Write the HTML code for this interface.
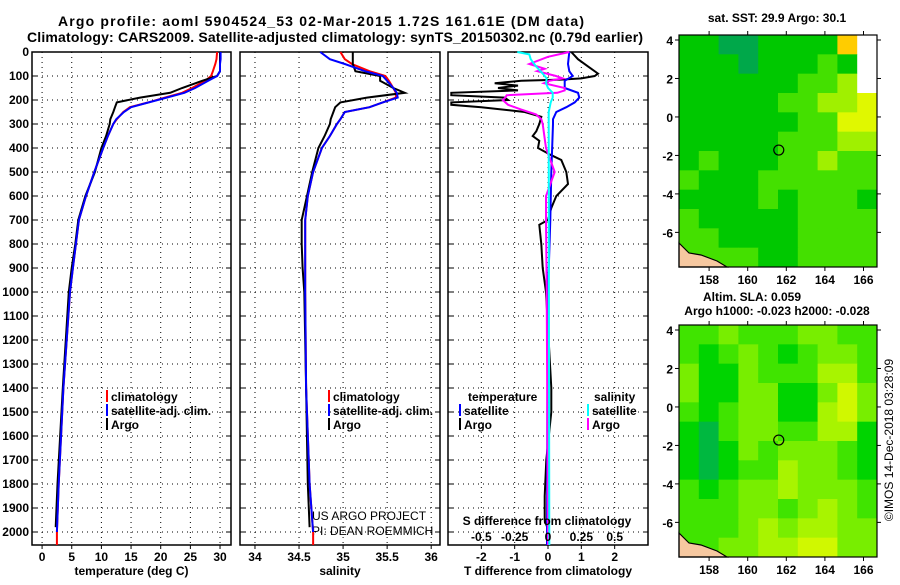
<!DOCTYPE html>
<html><head><meta charset="utf-8"><style>
body{margin:0;background:#fff}
svg text{font-family:"Liberation Sans",Arial,sans-serif;font-weight:bold;font-size:12px;fill:#000}
</style></head><body>
<svg id="c" width="900" height="580" viewBox="0 0 900 580" xmlns="http://www.w3.org/2000/svg">
<text x="58" y="26" style="font-size:14px" textLength="526">Argo profile: aoml 5904524_53 02-Mar-2015 1.72S 161.61E (DM data)</text>
<text x="27" y="42" style="font-size:14px" textLength="616">Climatology: CARS2009. Satellite-adjusted climatology: synTS_20150302.nc (0.79d earlier)</text>
<text x="777" y="22" text-anchor="middle">sat. SST: 29.9 Argo: 30.1</text>
<text x="752" y="301" text-anchor="middle">Altim. SLA: 0.059</text>
<text x="777" y="315" text-anchor="middle">Argo h1000: -0.023 h2000: -0.028</text>
<text transform="translate(893,440) rotate(-90)" text-anchor="middle" style="font-weight:normal;font-size:12px">©IMOS 14-Dec-2018 03:28:09</text>
<text x="312" y="520" style="font-weight:normal;font-size:12px">US ARGO PROJECT</text>
<text x="312" y="535" style="font-weight:normal;font-size:12px">PI: DEAN ROEMMICH</text>
</svg>
<script>
// ---- data ----
const depths=[0,30,50,80,100,120,150,170,190,210,230,250,280,300,350,400,500,600,700,800,900,1000,1400,1800,2000];
const tempArgo=[30.0,30.0,30.0,30.0,29.5,27.0,23.6,21.6,16.5,12.6,12.3,12.0,11.5,11.4,10.8,10.0,8.9,7.3,6.1,5.6,5.0,4.5,3.5,2.6,2.3];
const tempClim=[29.5,29.4,29.2,28.8,28.5,27.5,25.3,23.6,20.7,17.9,14.8,13.7,12.6,12.0,11.1,10.3,8.8,7.4,6.2,5.7,5.2,4.7,3.6,2.8,2.5];
const tempSat=[30.1,30.1,30.0,30.0,29.5,28.0,25.8,24.0,21.0,18.0,15.0,13.8,12.5,12.0,11.1,10.3,8.8,7.4,6.2,5.7,5.2,4.7,3.6,2.8,2.5];
const salArgo=[35.11,35.11,35.11,35.14,35.42,35.42,35.57,35.70,35.27,34.97,34.91,34.89,34.86,34.85,34.79,34.72,34.65,34.59,34.53,34.53,34.54,34.56,34.58,34.60,34.62];
const salClim=[34.97,35.02,35.10,35.30,35.48,35.52,35.57,35.60,35.60,35.45,35.30,35.02,34.97,34.93,34.85,34.76,34.66,34.60,34.57,34.57,34.57,34.57,34.58,34.62,34.66];
const salSat=[34.74,34.85,35.02,35.25,35.45,35.50,35.57,35.61,35.62,35.45,35.30,35.02,34.97,34.93,34.85,34.76,34.66,34.60,34.57,34.57,34.57,34.57,34.58,34.62,34.66];
const dDepths=[0,30,60,90,100,110,115,120,130,140,150,160,170,180,190,200,210,220,230,250,270,300,330,350,370,400,430,450,500,550,600,650,700,720,800,900,1000,1400,1500,1700,1850,1950,1990];
const dTArgo=[0.7,0.9,1.2,1.5,1.4,1.0,0.4,-0.8,-1.6,-0.9,-1.5,-0.9,-2.9,-2.9,-1.3,-1.2,-2.9,-2.9,-2.0,-0.7,-0.2,-0.26,-0.35,-0.46,-0.26,-0.3,0.1,0.4,0.55,0.6,0.25,0.1,0.0,-0.26,-0.2,-0.16,-0.06,0.1,0.1,-0.05,-0.1,-0.1,0.0];
const tdDepths=[0,50,80,100,120,150,170,190,210,230,250,280,300,500,700,1000,1500,2054];
const dTSat=[0.64,0.6,0.64,0.74,0.5,0.5,0.9,0.94,0.8,0.55,0.25,0.15,0.15,0.1,0.07,0.0,-0.02,-0.03];
const sdDepths=[0,20,50,70,80,100,110,120,130,150,160,170,180,190,200,220,240,260,280,300,400,500,600,700,1000,2054];
const dSArgo=[0.16,0.0,-0.14,-0.025,-0.08,0.06,0.11,0.01,-0.03,0.125,0.125,0.07,-0.31,-0.32,-0.34,-0.3,-0.2,-0.09,-0.05,-0.04,-0.015,0.05,-0.015,-0.015,-0.01,0.0];
const ssDepths=[0,10,30,60,90,110,130,150,170,190,210,250,300,2054];
const dSSat=[-0.23,-0.14,-0.13,-0.09,-0.04,-0.01,-0.015,0.0,0.035,0.035,0.02,0.005,0.005,0.01];
const depthTicks=[0,100,200,300,400,500,600,700,800,900,1000,1100,1200,1300,1400,1500,1600,1700,1800,1900,2000];
const tempTicks=[0,5,10,15,20,25,30];
const salTicks=[34,34.5,35,35.5,36];
const salTickLabels=["34","34.5","35","35.5","36"];
const tdTicks=[-2,-1,0,1,2];
const sdTicks=[-0.5,-0.25,0,0.25,0.5];
const sdTickLabels=["-0.5","-0.25","0","0.25","0.5"];
const lonTicks=[158,160,162,164,166];
const latTicks=[4,2,0,-2,-4,-6];
const argoLon=161.61, argoLat=-1.72;
const sstGrid=[
[1,1,0,0,1,1,1,1,5,9],[1,1,1,0,1,1,1,2,1,9],[1,1,1,1,1,1,2,2,3,9],[1,1,1,1,1,2,2,3,3,4],
[1,1,1,1,1,1,2,2,4,4],[1,1,1,1,1,2,2,2,3,3],[1,2,1,1,1,2,2,3,2,2],[2,1,1,1,2,2,2,2,2,2],
[1,1,1,1,2,1,2,2,2,1],[2,1,1,1,1,1,2,2,2,2],[2,2,1,1,1,1,2,2,2,2],[2,2,2,2,1,1,2,2,2,2]];
const slaGrid=[
[2,2,3,2,2,2,3,3,2,2],[2,1,2,3,2,1,2,3,3,2],[3,1,1,3,2,2,2,4,4,2],[3,1,1,3,3,1,1,3,5,3],
[2,1,2,3,3,1,1,4,5,3],[1,0,2,3,3,2,2,4,4,1],[1,0,1,3,2,3,3,3,2,1],[1,0,1,2,2,4,3,3,2,1],
[2,1,2,3,3,4,3,3,3,2],[2,2,2,3,3,2,3,4,3,2],[2,2,2,3,4,3,4,4,3,3],[2,2,3,3,4,4,5,5,3,3]];
// ---- drawing ----
const svg=document.getElementById('c');const NS='http://www.w3.org/2000/svg';
function mk(t,a,p){const e=document.createElementNS(NS,t);for(const k in a)e.setAttribute(k,a[k]);(p||svg).appendChild(e);return e;}
const yTop=52,yBot=545;const yD=d=>yTop+d*0.24;
function panel(name,x0,x1,xmin,xmax,ticks,labels,xlabel){
 const g=mk('g',{});
 
 
 const sx=v=>x0+(v-xmin)/(xmax-xmin)*(x1-x0);
 ticks.forEach((t,i)=>{const x=sx(t);
  const l=mk('line',{x1:x,x2:x,y1:yTop,y2:yBot,stroke:'#000','stroke-width':1,'stroke-dasharray':'1,4'},g);
  
  mk('line',{x1:x,x2:x,y1:yBot,y2:yBot+4,stroke:'#000'},g);
  const tx=mk('text',{x:x,y:yBot+16,'text-anchor':'middle'},g);tx.textContent=labels[i];
  });
 depthTicks.forEach(d=>{const y=yD(d);
  const l=mk('line',{x1:x0,x2:x1,y1:y,y2:y,stroke:'#000','stroke-width':1,'stroke-dasharray':'1,4'},g);
  
  mk('line',{x1:x0,x2:x0+5,y1:y,y2:y,stroke:'#000'},g);mk('line',{x1:x1-5,x2:x1,y1:y,y2:y,stroke:'#000'},g);});
 const f=mk('rect',{x:x0,y:yTop,width:x1-x0,height:yBot-yTop,fill:'none',stroke:'#000','stroke-width':1.5},g);
 
 const xl=mk('text',{x:(x0+x1)/2,y:575,'text-anchor':'middle'},g);xl.textContent=xlabel;
 
 return {g,sx};}
function line(p,xs,ds,col,name,scale){
 const s=scale||1;
 const pts=xs.map((v,i)=>p.sx(v*s).toFixed(1)+','+yD(ds[i]).toFixed(1)).join(' ');
 const e=mk('polyline',{points:pts,fill:'none',stroke:col,'stroke-width':2},p.g);
 }
function legend(p,items){items.forEach(it=>{
 const r=mk('rect',{x:it[0],y:it[1]-11,width:2,height:12,fill:it[3]},p.g);
 
 const t=mk('text',{x:it[0]+5,y:it[1]},p.g);t.textContent=it[2];
 });}
depthTicks.forEach(d=>{const t=mk('text',{x:29,y:yD(d)+4,'text-anchor':'end'});t.textContent=d;
 });
const pT=panel('temperature-panel',32,231,-1.7,31.85,tempTicks,tempTicks.map(String),'temperature (deg C)');
line(pT,tempClim,depths,'#f00','temp-climatology-line');
line(pT,tempArgo,depths.map(d=>Math.min(d,1980)),'#000','temp-argo-line');
line(pT,tempSat,depths,'#00f','temp-satellite-line');
mk('line',{x1:pT.sx(2.5),x2:pT.sx(2.5),y1:yD(2000),y2:yBot,stroke:'#f00','stroke-width':2},pT.g);
legend(pT,[[106,401,'climatology','#f00'],[106,415,'satellite-adj. clim.','#00f'],[106,429,'Argo','#000']]);
const pS=panel('salinity-panel',240,440,33.83,36.1,salTicks,salTickLabels,'salinity');
line(pS,salClim,depths,'#f00','sal-climatology-line');
line(pS,salArgo,depths.map(d=>Math.min(d,1980)),'#000','sal-argo-line');
line(pS,salSat,depths,'#00f','sal-satellite-line');
mk('line',{x1:pS.sx(34.66),x2:pS.sx(34.66),y1:yD(2000),y2:yBot,stroke:'#f00','stroke-width':2},pS.g);
legend(pS,[[328,401,'climatology','#f00'],[328,415,'satellite-adj. clim.','#00f'],[328,429,'Argo','#000']]);
const pD=panel('difference-panel',448,648,-3,3,tdTicks,tdTicks.map(String),'T difference from climatology');
line(pD,dTArgo,dDepths,'#000','tdiff-argo-line');
line(pD,dTSat,tdDepths,'#00f','tdiff-satellite-line');
line(pD,dSArgo,sdDepths,'#f0f','sdiff-argo-line',4);
line(pD,dSSat,ssDepths,'#0ff','sdiff-satellite-line',4);
{const t=mk('text',{x:468,y:401},pD.g);t.textContent='temperature';
 const t2=mk('text',{x:594,y:401},pD.g);t2.textContent='salinity';}
legend(pD,[[459,415,'satellite','#00f'],[459,429,'Argo','#000'],[587,415,'satellite','#0ff'],[587,429,'Argo','#f0f']]);
{const t=mk('text',{x:547,y:525,'text-anchor':'middle'},pD.g);t.textContent='S difference from climatology';
 
 sdTicks.forEach((v,i)=>{const tt=mk('text',{x:pD.sx(v*4),y:541,'text-anchor':'middle'},pD.g);tt.textContent=sdTickLabels[i];
 });}
const sstCol={0:'#00a84a',1:'#00c800',2:'#44e000',3:'#a0f000',4:'#e0f800',5:'#ffcc00',9:'#ffffff'};
const slaCol={0:'#00b840',1:'#00d400',2:'#40e400',3:'#78ee00',4:'#a8f400',5:'#d0f800'};
function map(name,yT,grid,cols){
 const g=mk('g',{});
 
 
 const x0=679,x1=877,lonMin=156.44,lonMax=166.7,latMax=4.26,latMin=-7.8,yB=yT+232;
 const sx=v=>x0+(v-lonMin)/(lonMax-lonMin)*(x1-x0),sy=v=>yT+(latMax-v)/(latMax-latMin)*(yB-yT);
 const nr=grid.length,nc=grid[0].length,cw=(x1-x0)/nc,ch=(yB-yT)/nr;
 grid.forEach((row,r)=>row.forEach((v,c)=>{const e=mk('rect',{x:x0+c*cw,y:yT+r*ch,width:cw+0.5,height:ch+0.5,fill:cols[v]},g);
  }));
 const land=mk('path',{d:`M${x0} ${yB-24} L${x0+10} ${yB-14} L${x0+22} ${yB-12} L${x0+38} ${yB-6} L${x0+48} ${yB} L${x0} ${yB} Z`,fill:'#f6c8a0',stroke:'#000','stroke-width':1.2},g);
 
 const f=mk('rect',{x:x0,y:yT,width:x1-x0,height:yB-yT,fill:'none',stroke:'#000','stroke-width':1.2},g);
 
 lonTicks.forEach(l=>{const x=sx(l);mk('line',{x1:x,x2:x,y1:yT-4,y2:yT,stroke:'#000'},g);mk('line',{x1:x,x2:x,y1:yB,y2:yB+4,stroke:'#000'},g);
  const t=mk('text',{x:x,y:yB+17,'text-anchor':'middle'},g);t.textContent=l;});
 latTicks.forEach(l=>{const y=sy(l);mk('line',{x1:x0-4,x2:x0,y1:y,y2:y,stroke:'#000'},g);mk('line',{x1:x1,x2:x1+4,y1:y,y2:y,stroke:'#000'},g);
  const t=mk('text',{x:673,y:y+5,'text-anchor':'end'},g);t.textContent=l;});
 const c=mk('circle',{cx:sx(argoLon),cy:sy(argoLat),r:5,fill:'none',stroke:'#000','stroke-width':1.2},g);
 }
map('sst-map',35,sstGrid,sstCol);
map('sla-map',325,slaGrid,slaCol);
</script>
</body></html>
